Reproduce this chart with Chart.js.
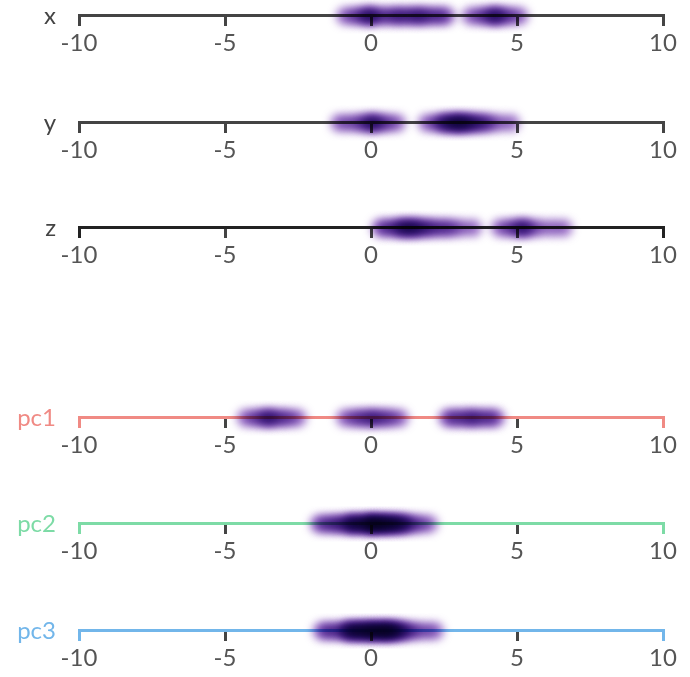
<!DOCTYPE html>
<html>
<head>
<meta charset="utf-8">
<script src="https://cdn.jsdelivr.net/npm/chart.js@4.4.1/dist/chart.umd.min.js"></script>
<style>
  html, body { margin: 0; padding: 0; background: #fff; }
  #wrap { position: relative; width: 690px; height: 677px; overflow: hidden; }
  #wrap canvas { position: absolute; left: 0; }
</style>
</head>
<body>
<div id="wrap"></div>
<script>
// axis names and colours
const axisNames = ["x", "y", "z", "pc1", "pc2", "pc3"];
const axisColors = ["#444444", "#444444", "#222222", "#f08a84", "#7ddba6", "#72b6ea"];
const labelColors = ["#444444", "#444444", "#444444", "#f08a84", "#7ddba6", "#72b6ea"];
const axisLineY = [16, 123, 228, 418, 524, 631];

// values per axis
const xValues = [-0.9, -0.6, -0.4, -0.2, -0.1, 0, 0.1, 0.3, 0.5, 0.7, 0.9,
  1.0, 1.2, 1.4, 1.5, 1.7, 1.8, 2.0, 2.2, 2.4, 2.6,
  3.4, 3.7, 3.9, 4.1, 4.2, 4.3, 4.4, 4.6, 4.8, 5.1];
const yValues = [-1.1, -0.8, -0.5, -0.3, -0.1, 0, 0.1, 0.2, 0.4, 0.6, 0.9,
  1.9, 2.2, 2.4, 2.5, 2.6, 2.7, 2.8, 2.9, 3.0, 3.0,
  3.1, 3.2, 3.3, 3.4, 3.5, 3.6, 3.8, 3.9, 4.1, 4.4, 4.8];
const zValues = [0.3, 0.5, 0.7, 0.9, 1.0, 1.1, 1.2, 1.3, 1.4, 1.5,
  1.6, 1.7, 1.9, 2.0, 2.2, 2.4, 2.6, 2.8, 3.1, 3.5,
  4.4, 4.7, 4.9, 5.1, 5.2, 5.3, 5.5, 5.8, 6.2, 6.6];
const pc1Values = [-4.3, -4.0, -3.8, -3.6, -3.5, -3.4, -3.2, -3.0, -2.8, -2.5,
  -0.9, -0.6, -0.4, -0.2, 0, 0.1, 0.3, 0.5, 0.7, 1.0,
  2.6, 2.8, 3.0, 3.2, 3.4, 3.5, 3.7, 3.9, 4.1, 4.3];
const pc2Values = [-1.8, -1.6, -1.4, -1.2, -1.1, -0.9, -0.8, -0.7, -0.6, -0.5,
  -0.4, -0.3, -0.2, -0.1, 0, 0, 0.1, 0.1, 0.2, 0.3,
  0.3, 0.4, 0.5, 0.6, 0.7, 0.8, 0.9, 1.0, 1.1, 1.2,
  1.3, 1.5, 1.7, 2.0, -0.2, 0.1, 0.5, 0.6, -0.6, 0.9];
const pc3Values = [-1.7, -1.5, -1.3, -1.1, -0.9, -0.8, -0.7, -0.6, -0.5, -0.4,
  -0.3, -0.2, -0.1, 0, 0, 0.1, 0.2, 0.3, 0.4, 0.5,
  0.5, 0.6, 0.7, 0.8, 0.9, 1.0, 1.1, 1.2, 1.4, 1.6,
  1.9, 2.2, -0.3, 0.2, 0.4, 0.6, -0.8, 0.0, 0.8, -0.5];
const seriesValues = [xValues, yValues, zValues, pc1Values, pc2Values, pc3Values];

const paperPlugin = {
  id: "paper",
  beforeDraw(chart) {
    const ctx = chart.ctx;
    ctx.save();
    ctx.fillStyle = "#ffffff";
    ctx.fillRect(0, 0, chart.width, chart.height);
    ctx.restore();
  },
};

const blurPlugin = {
  id: "blur",
  beforeDatasetsDraw(chart) {
    chart.ctx.save();
    chart.ctx.filter = "blur(4px)";
    chart.ctx.globalCompositeOperation = "multiply";
  },
  afterDatasetsDraw(chart) {
    chart.ctx.restore();
  },
};

const wrap = document.getElementById("wrap");
const charts = {};

axisNames.forEach((name, i) => {
  const canvas = document.createElement("canvas");
  canvas.width = 690;
  canvas.height = 96;
  canvas.style.width = "690px";
  canvas.style.height = "96px";
  wrap.appendChild(canvas);

  const chart = new Chart(canvas.getContext("2d"), {
    type: "scatter",
    data: {
      datasets: [
        {
          data: seriesValues[i].map((v) => ({ x: v, y: 0 })),
          backgroundColor: "rgba(100, 30, 170, 0.6)",
          borderWidth: 0,
          pointRadius: 9,
          clip: false,
        },
      ],
    },
    options: {
      responsive: false,
      animation: false,
      events: [],
      layout: { padding: { left: 0, right: 27, top: 16, bottom: 0 } },
      plugins: { legend: { display: false }, tooltip: { enabled: false } },
      scales: {
        x: {
          type: "linear",
          position: "bottom",
          min: -10,
          max: 10,
          ticks: {
            stepSize: 5,
            font: { family: "Lato", size: 24 },
            color: "#555555",
            padding: 3,
            maxRotation: 0,
            autoSkip: false,
          },
          grid: {
            drawOnChartArea: false,
            drawTicks: true,
            tickLength: 10,
            lineWidth: 3,
            color: (ctx) => (ctx.tick && Math.abs(ctx.tick.value) === 10 ? axisColors[i] : "#444444"),
          },
          border: { display: true, color: axisColors[i], width: 3 },
        },
        y: {
          type: "linear",
          min: 0,
          max: 1,
          afterFit: (s) => { s.width = 79; },
          ticks: {
            stepSize: 1,
            font: { family: "Lato", size: 24 },
            color: labelColors[i],
            padding: 23,
            callback: (v) => (v === 0 ? name : null),
          },
          grid: { display: false, drawTicks: false },
          border: { display: false },
        },
      },
    },
    plugins: [paperPlugin, blurPlugin],
  });
  charts[name] = chart;
  // line the chart's axis up with where it sits in the picture
  canvas.style.top = (axisLineY[i] - chart.chartArea.bottom) + "px";
});
</script>
</body>
</html>
